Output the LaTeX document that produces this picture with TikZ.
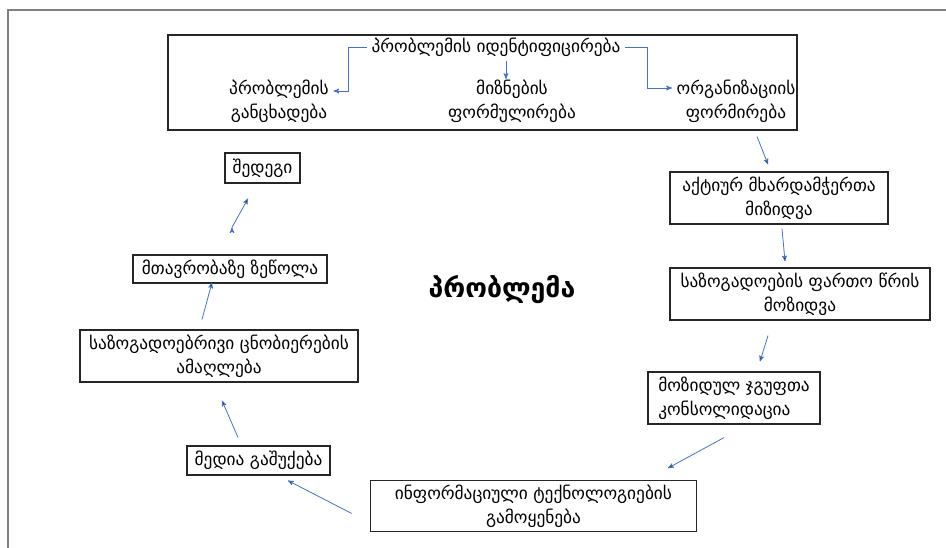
\documentclass[tikz,border=0pt]{standalone}
\usepackage{fontspec}
\setmainfont[Script=Georgian]{DejaVu Sans}
\usetikzlibrary{arrows}
\definecolor{linkblue}{RGB}{68,114,196}

\begin{document}
\begin{tikzpicture}[x=0.75pt,y=-0.75pt,->,>=stealth',
    stage/.style={draw=black!85,line width=0.9pt,align=center,inner sep=2pt,
                  font=\fontsize{13}{18}\selectfont},
    txt/.style={align=center,font=\fontsize{13}{18}\selectfont},
    link/.style={draw=linkblue,line width=0.6pt}]
    \useasboundingbox (0,0) rectangle (946,548);
    % outer frame
    \draw[-,gray,line width=1pt] (8,548) -- (8,10) -- (946,10);

    % top block
    \node[stage,minimum width=471.75pt,minimum height=71.25pt] (top) at (482.5,82.5) {};
    \node[txt] (ident) at (496,47) {პრობლემის იდენტიფიცირება};
    \node[txt] (stmt) at (279,101) {პრობლემის\\განცხადება};
    \node[txt] (goals) at (512,101) {მიზნების\\ფორმულირება};
    \node[txt] (org) at (736,101) {ორგანიზაციის\\ფორმირება};

    % cycle
    \node[stage,minimum width=163.5pt,minimum height=39pt] (act) at (779,198) {აქტიურ მხარდამჭერთა\\მიზიდვა};
    \node[stage,minimum width=195pt,minimum height=39pt] (wide) at (800,294) {საზოგადოების ფართო წრის\\მოზიდვა};
    \node[stage,align=left,minimum width=129pt,minimum height=39pt] (cons) at (734,398) {მოზიდულ ჯგუფთა\\კონსოლიდაცია};
    \node[stage,minimum width=245pt,minimum height=38pt] (info) at (533.5,506) {ინფორმაციული ტექნოლოგიების\\გამოყენება};
    \node[stage,minimum width=107.25pt,minimum height=21.75pt] (media) at (258.5,460.5) {მედია გაშუქება};
    \node[stage,minimum width=208.5pt,minimum height=39pt] (aware) at (219,356) {საზოგადოებრივი ცნობიერების\\ამაღლება};
    \node[stage,minimum width=145.5pt,minimum height=21pt] (gov) at (230,269) {მთავრობაზე ზეწოლა};
    \node[stage,minimum width=56.25pt,minimum height=22.5pt] (result) at (262.5,168) {შედეგი};

    \node[font=\bfseries\fontsize{20}{24}\selectfont] (problem) at (502,290) {პრობლემა};

    \draw[link] (ident.west) -- ++(-18,0) |- ([yshift=7.5pt]stmt.east);
    \draw[link] ([xshift=-4.5pt]goals.north |- ident.south) -- ([xshift=-4.5pt,yshift=-3pt]goals.north);
    \draw[link] (ident.east) -- ++(22,0) |- ([yshift=9.75pt]org.west);

    \path[link]
    ([xshift=205.9pt,yshift=-4.5pt]top.south) edge ([xshift=-8.25pt,yshift=5.25pt]act.north)
    ([xshift=2.25pt,yshift=-3pt]act.south) edge ([xshift=-11.25pt,yshift=4.5pt]wide.north)
    ([xshift=-24pt,yshift=-11.25pt]wide.south) edge ([xshift=19.5pt,yshift=7.5pt]cons.north)
    ([xshift=-7.5pt,yshift=-9.75pt]cons.south) edge ([xshift=100.9pt,yshift=9pt]info.north)
    ([xshift=-13.5pt,yshift=-5.6pt]info.west) edge ([xshift=22.1pt,yshift=-3.75pt]media.south)
    ([xshift=-15.4pt,yshift=6pt]media.north) edge ([xshift=2.25pt,yshift=-13.5pt]aware.south)
    ([xshift=-12.75pt,yshift=7.5pt]aware.north) edge ([xshift=-13.5pt,yshift=0.75pt]gov.south)
    ([xshift=1.5pt,yshift=20.25pt]gov.north) edge ([xshift=-10.9pt,yshift=-11.25pt]result.south)
    ;
\end{tikzpicture}
\end{document}
